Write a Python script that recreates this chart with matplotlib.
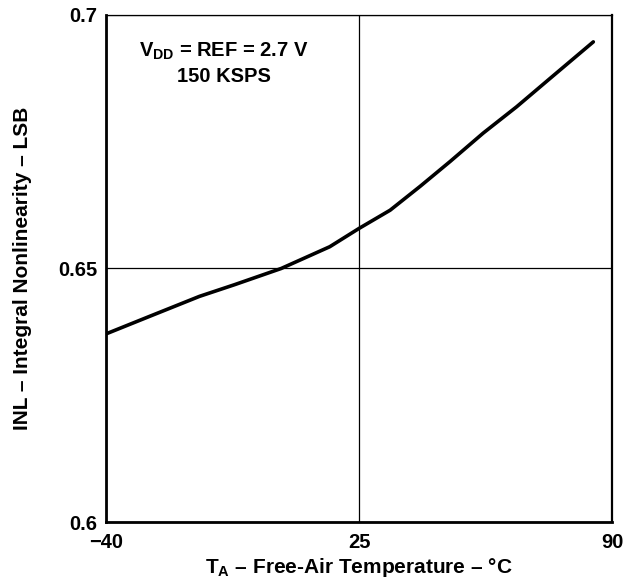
import matplotlib
matplotlib.use("Agg")
import matplotlib.pyplot as plt

# Valores
temperatura = [-40, -29, -16, -7, 5, 17.5, 25, 33, 40.7, 48.4, 56.9, 65.5, 74.1, 85.2]
inl = [0.6371, 0.6405, 0.6445, 0.6468, 0.6500, 0.6543, 0.6579, 0.6615, 0.6662, 0.6711, 0.6767, 0.6819, 0.6875, 0.6947]

x_ticks = [-40, 25, 90]
y_ticks = [0.6, 0.65, 0.7]
x_tick_labels = ["\u221240", "25", "90"]
y_tick_labels = ["0.6", "0.65", "0.7"]

plt.rcParams["font.family"] = ["Liberation Sans", "DejaVu Sans"]
plt.rcParams["font.weight"] = "bold"
plt.rcParams["mathtext.fontset"] = "custom"
plt.rcParams["mathtext.rm"] = "Liberation Sans:bold"
plt.rcParams["mathtext.bf"] = "Liberation Sans:bold"
plt.rcParams["mathtext.it"] = "Liberation Sans:bold"


def main():
    fig = plt.figure(figsize=(6.24, 5.85), dpi=100)
    ax = fig.add_axes([106 / 624, 1 - 522 / 585, 506 / 624, 507 / 585])

    ax.plot(temperatura, inl, color="black", linewidth=2.6,
            solid_capstyle="round", solid_joinstyle="round")

    ax.set_xlim(-40, 90)
    ax.set_ylim(0.6, 0.7)
    ax.set_xticks(x_ticks)
    ax.set_xticklabels(x_tick_labels)
    ax.set_yticks(y_ticks)
    ax.set_yticklabels(y_tick_labels)
    ax.tick_params(axis="x", length=0, labelsize=14.5, pad=8)
    ax.tick_params(axis="y", length=0, labelsize=14.5, pad=6)
    for lbl in ax.get_xticklabels() + ax.get_yticklabels():
        lbl.set_fontweight("bold")

    ax.grid(True, color="black", linewidth=0.9)
    for lado, ancho in [("left", 2.0), ("bottom", 2.0), ("right", 1.6), ("top", 0.9)]:
        ax.spines[lado].set_linewidth(ancho)

    ax.set_xlabel("T$_{\\mathregular{A}}$ \u2013 Free-Air Temperature \u2013 \u00b0C",
                  fontsize=15, fontweight="bold", va="center")
    ax.xaxis.set_label_coords(0.5, -0.09)
    ax.set_ylabel("INL \u2013 Integral Nonlinearity \u2013 LSB",
                  fontsize=15, fontweight="bold", va="center")
    ax.yaxis.set_label_coords(-0.165, 0.5)

    ax.text(0.233, 0.905, "V$_{\\mathregular{DD}}$ = REF = 2.7 V\n150 KSPS",
            transform=ax.transAxes, ha="center", va="center",
            fontsize=14.5, fontweight="bold", multialignment="center", linespacing=1.3)

    fig.savefig("out.png", dpi=100)


if __name__ == "__main__":
    main()
